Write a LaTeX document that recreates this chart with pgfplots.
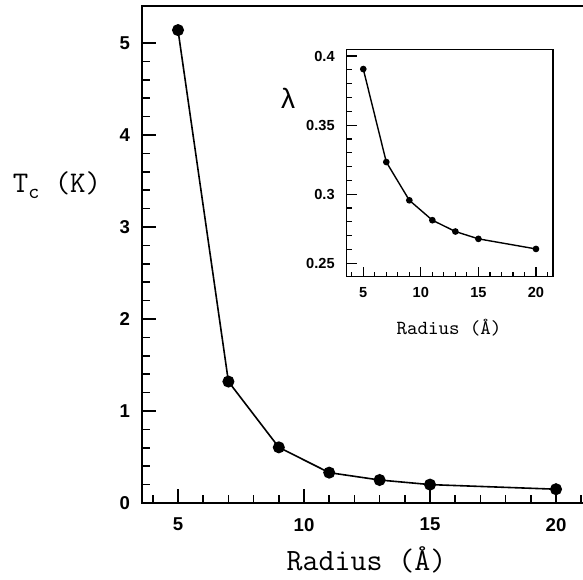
\documentclass[border=0pt]{standalone}
\usepackage{fontspec}
\setsansfont{Liberation Sans}
\usepackage{pgfplots}
\pgfplotsset{compat=1.18}
\newcommand\labfont[1]{\ttfamily\fontsize{#1}{#1}\selectfont\addfontfeature{FakeBold=0.6}}
\begin{document}
\begin{tikzpicture}
\useasboundingbox (-71pt,-38pt) rectangle (220.5pt,251.5pt);
\clip (-71pt,-38pt) rectangle (220.5pt,251.5pt);
% main panel: critical temperature against radius
\begin{axis}[
  scale only axis, at={(0pt,0pt)}, anchor=south west,
  width=222pt, height=248.5pt,
  xmin=3.571, xmax=21.19, ymin=0, ymax=5.402,
  xtick={5,10,15,20}, minor xtick={4,...,21},
  ytick={0,1,2,3,4,5}, minor y tick num=4,
  tick pos=left, tick align=inside,
  major tick length=6.8pt, minor tick length=3.8pt,
  axis line style={line width=1pt},
  every tick/.style={black, line width=0.8pt},
  /pgf/number format/assume math mode=true,
  ticklabel style={font=\sffamily\bfseries\fontsize{9.3}{10}\selectfont},
  xticklabel style={yshift=-4pt},
  yticklabel style={xshift=-2.5pt},
]
\addplot[black, line width=0.8pt, mark=*, mark size=2.6pt]
  coordinates {(5,5.14) (7,1.32) (9,0.605) (11,0.33) (13,0.25) (15,0.20) (20,0.15)};
\end{axis}
% inset: lambda against radius
\begin{axis}[
  scale only axis, at={(102.35pt,113.15pt)}, anchor=south west,
  width=103.15pt, height=113.7pt,
  xmin=3.56, xmax=21.48, ymin=0.2403, ymax=0.4049,
  xtick={5,10,15,20}, minor xtick={4,...,21},
  ytick={0.25,0.3,0.35,0.4}, yticklabels={0.25,0.3,0.35,0.4},
  minor y tick num=4,
  tick pos=left, tick align=inside,
  major tick length=5pt, minor tick length=2.6pt,
  axis line style={line width=0.75pt},
  every tick/.style={black, line width=0.6pt},
  /pgf/number format/assume math mode=true,
  ticklabel style={font=\sffamily\bfseries\fontsize{7.3}{8}\selectfont},
  xticklabel style={yshift=-2pt},
  yticklabel style={xshift=-2.5pt},
]
\addplot[black, line width=0.7pt, mark=*, mark size=1.3pt]
  coordinates {(5,0.3906) (7,0.3233) (9,0.2956) (11,0.2812) (13,0.2730) (15,0.2677) (20,0.2604)};
\end{axis}
% axis titles
\node[font=\labfont{15.5}] at (112.25pt,-28.5pt) {Radius (Å)};
\node[font=\labfont{15}] at (-42.5pt,159pt)
  {T\raisebox{-0.5ex}{\fontsize{10.5}{10.5}\selectfont c}\ (K)};
\node[font=\sffamily\fontsize{14}{16}\selectfont] at (73pt,202.5pt) {λ};
\node[font=\labfont{10}] at (153.5pt,87.5pt) {Radius (Å)};
\end{tikzpicture}
\end{document}
